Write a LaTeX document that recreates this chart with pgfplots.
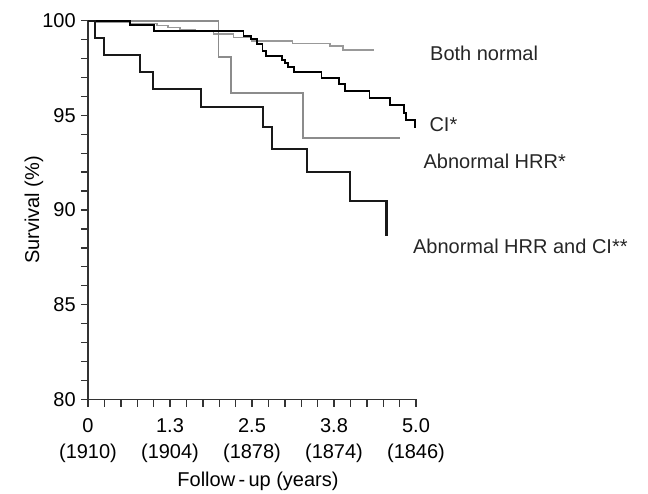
\documentclass[border=0pt]{standalone}
\usepackage{fontspec}
\setmainfont{Liberation Sans}
\usepackage{pgfplots}
\pgfplotsset{compat=1.18}

\definecolor{axisgray}{HTML}{333333}
\definecolor{hrrgray}{HTML}{8C8C8C}
\definecolor{normgray}{HTML}{999999}

\begin{document}
\begin{tikzpicture}
\begin{axis}[
    name=ax,
    scale only axis,
    width=164pt, height=189.3pt,
    xmin=0, xmax=5, ymin=80, ymax=100,
    axis lines*=left,
    axis line style={axisgray, line width=0.75pt},
    every tick/.style={axisgray, line width=0.7pt},
    tick align=outside,
    major tick length=3.6pt, minor tick length=3.6pt,
    xtick={0,1.25,2.5,3.75,5},
    xticklabels={{0\\(1910)},{1.3\\(1904)},{2.5\\(1878)},{3.8\\(1874)},{5.0\\(1846)}},
    minor x tick num=4,
    ytick={80,85,90,95,100},
    minor y tick num=4,
    font=\fontsize{10}{12.5}\selectfont,
    xticklabel style={align=center, font=\fontsize{10}{13}\selectfont, inner ysep=6pt},
    yticklabel style={font=\fontsize{10}{12}\selectfont, xshift=1pt},
    /pgf/number format/assume math mode=true,
    ylabel={Survival (\%)},
    ylabel style={at={(axis description cs:0,0.5)}, anchor=center, yshift=27pt},
    xlabel={Follow\,-\,up (years)},
    xlabel style={at={(axis description cs:0.5,0)}, anchor=center, yshift=-41pt, xshift=3pt},
    clip=false,
]
% Both normal
\addplot[const plot, normgray, line width=0.75pt] coordinates {
(0,100) (0.12,99.93) (0.64,99.86) (1.05,99.74) (1.22,99.65) (1.40,99.54)
(1.63,99.42) (1.91,99.30) (2.22,99.12) (2.49,98.94) (3.12,98.80)
(3.69,98.66) (3.89,98.45) (4.36,98.45)};
% Abnormal HRR
\addplot[const plot, hrrgray, line width=0.9pt] coordinates {
(0,100) (1.99,98.10) (2.18,96.16) (3.28,93.79) (4.75,93.79)};
% CI
\addplot[const plot, black, line width=0.9pt] coordinates {
(0,100) (0.64,99.77) (1.00,99.47) (2.37,99.19) (2.49,99.02) (2.58,98.75)
(2.66,98.42) (2.71,98.15) (2.96,97.92) (3.00,97.75) (3.05,97.54)
(3.14,97.31) (3.56,96.96) (3.83,96.66) (3.92,96.30) (4.29,95.90)
(4.60,95.55) (4.82,95.11) (4.85,94.75) (4.98,94.32)};
% Abnormal HRR and CI
\addplot[const plot, black!90, line width=1.1pt] coordinates {
(0,100) (0.107,99.07) (0.244,98.19) (0.79,97.27) (0.986,96.39)
(1.72,95.46) (2.67,94.37) (2.81,93.22) (3.34,91.99) (3.99,90.46) (4.55,88.64)};

\node[anchor=west, inner sep=0pt, text=black!85] at (axis cs:5.21,98.29) {Both normal};
\node[anchor=west, inner sep=0pt, text=black!85] at (axis cs:5.20,94.53) {CI*};
\node[anchor=west, inner sep=0pt, text=black!85] at (axis cs:5.11,92.55) {Abnormal HRR*};
\node[anchor=west, inner sep=0pt, text=black!85] at (axis cs:4.95,88.06) {Abnormal HRR and CI**};
\end{axis}
\pgfresetboundingbox
\useasboundingbox ([shift={(-44pt,-46.85pt)}]ax.south west) rectangle ([shift={(116pt,10.35pt)}]ax.north east);
\end{tikzpicture}
\end{document}
